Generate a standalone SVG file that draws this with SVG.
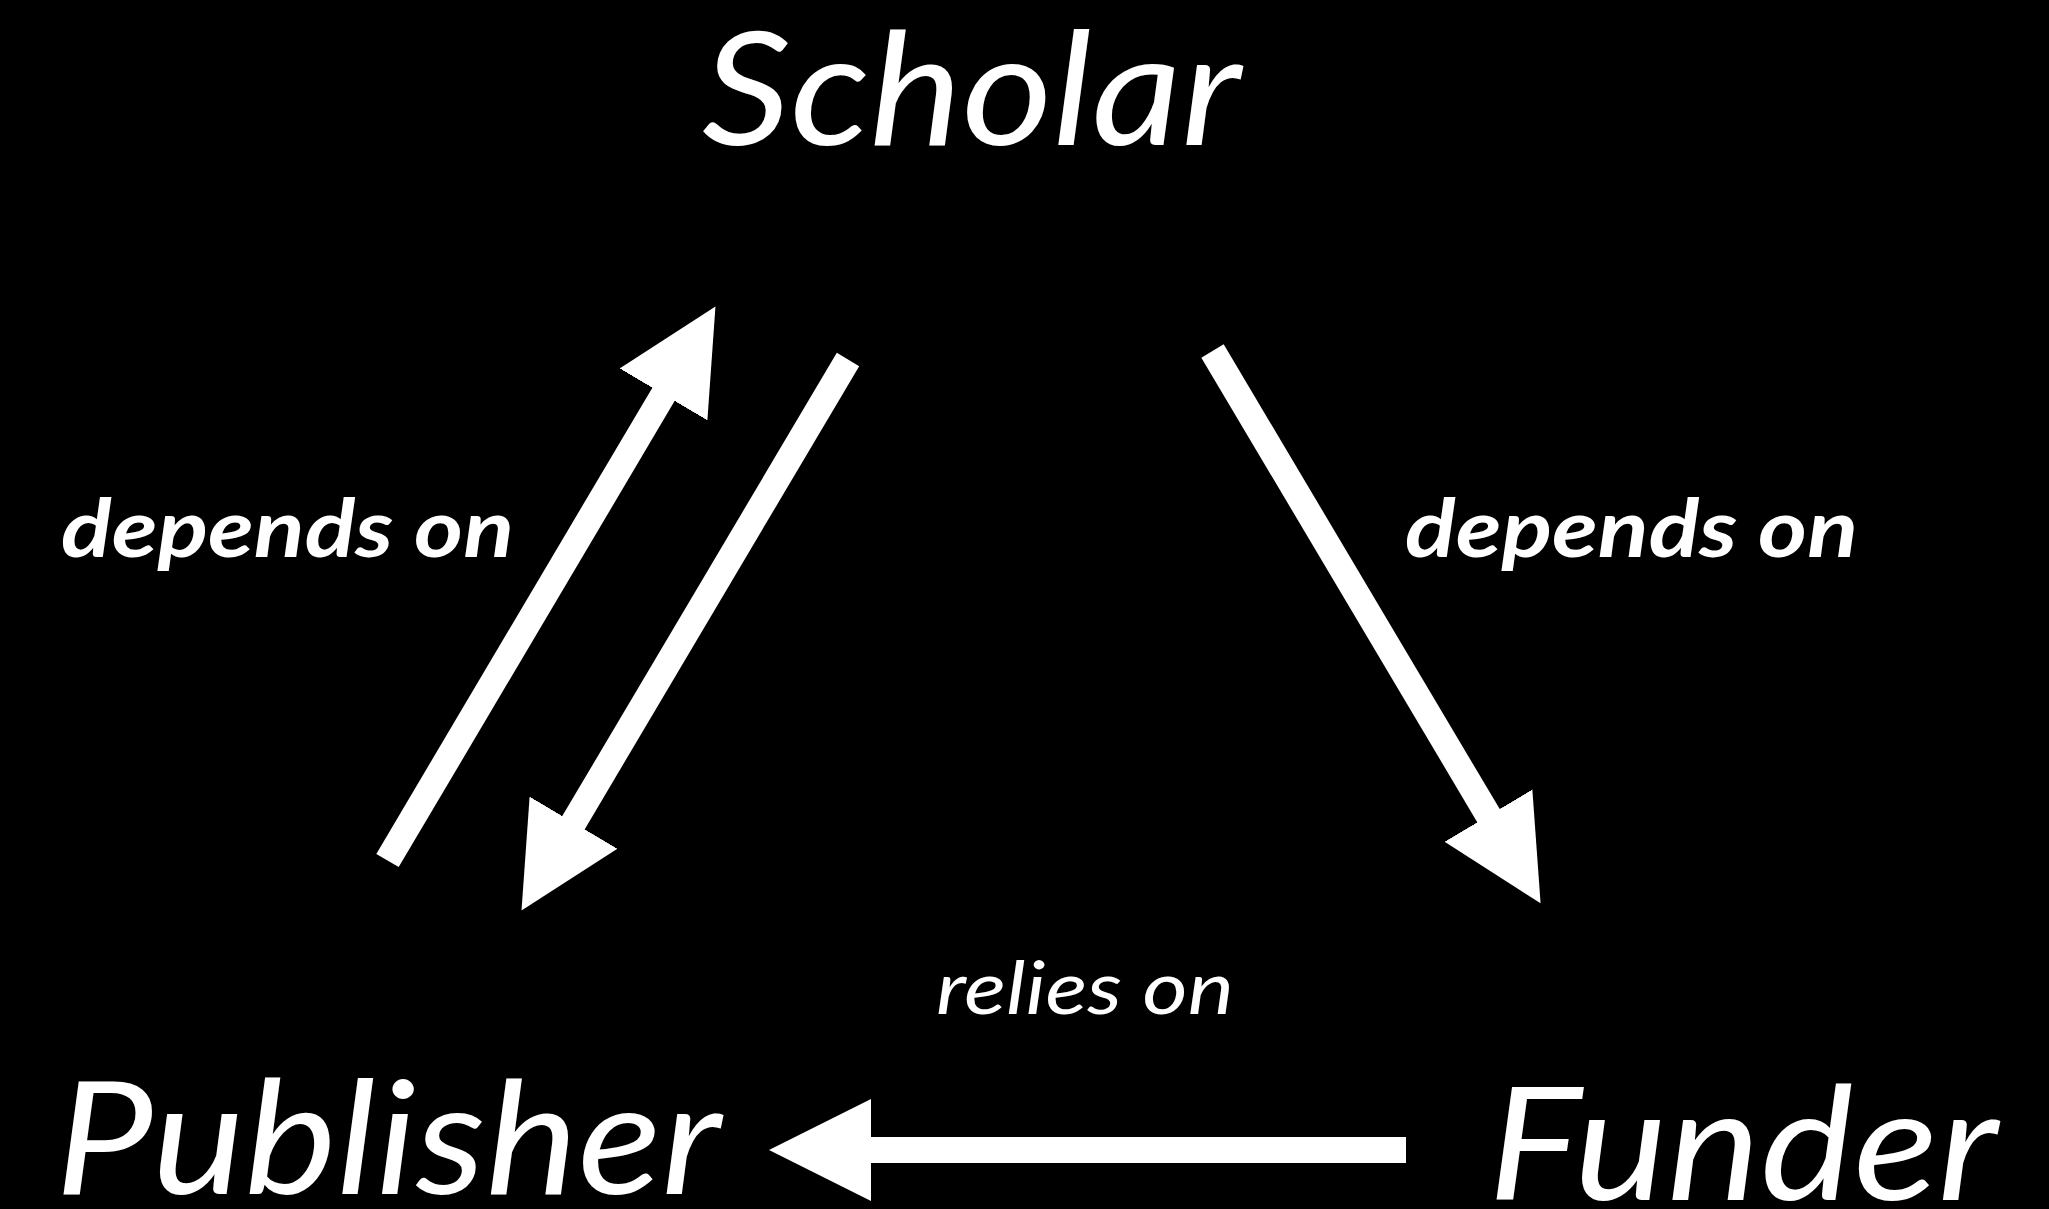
<svg xmlns="http://www.w3.org/2000/svg" width="2049" height="1209" viewBox="0 0 2049 1209">
<style>
.node{font-family:Lato,"Open Sans","Liberation Sans",sans-serif;font-style:italic;font-weight:400;font-size:158px;fill:#fff}
.lbl{font-family:Lato,"Open Sans","Liberation Sans",sans-serif;font-style:italic;font-weight:700;font-size:80px;fill:#fff}
.lbl2{font-family:Lato,"Open Sans","Liberation Sans",sans-serif;font-style:italic;font-weight:400;font-size:74px;fill:#fff}
.conn{stroke:#fff;stroke-width:26;fill:none;marker-end:url(#head)}
</style>
<defs>
<marker id="head" markerUnits="userSpaceOnUse" markerWidth="104" markerHeight="104" refX="1" refY="51" orient="auto" viewBox="0 0 104 102">
<path d="M0,0 L102,51 L0,102 Z" fill="#fff"/>
</marker>
</defs>
<rect width="2049" height="1209" fill="#000"/>
<g id="connectors">
<line class="conn" x1="387.5" y1="860.5" x2="664" y2="393.5"/>
<line class="conn" x1="848" y1="359.5" x2="573" y2="823.5"/>
<line class="conn" x1="1212.5" y1="351" x2="1489" y2="816.5"/>
<line class="conn" x1="1406" y1="1150" x2="870" y2="1150"/>
</g>
<g id="scholar"><text class="node" x="702" y="145" textLength="539" lengthAdjust="spacingAndGlyphs">Scholar</text></g>
<g id="publisher"><text class="node" x="55" y="1194" textLength="666" lengthAdjust="spacingAndGlyphs">Publisher</text></g>
<g id="funder"><text class="node" x="1488" y="1200" textLength="510" lengthAdjust="spacingAndGlyphs">Funder</text></g>
<g id="labels">
<text class="lbl" x="61" y="557" textLength="453" lengthAdjust="spacingAndGlyphs">depends on</text>
<text class="lbl" x="1405" y="557" textLength="453" lengthAdjust="spacingAndGlyphs">depends on</text>
<text class="lbl2" x="936" y="1014" textLength="298" lengthAdjust="spacingAndGlyphs">relies on</text>
</g>
</svg>
